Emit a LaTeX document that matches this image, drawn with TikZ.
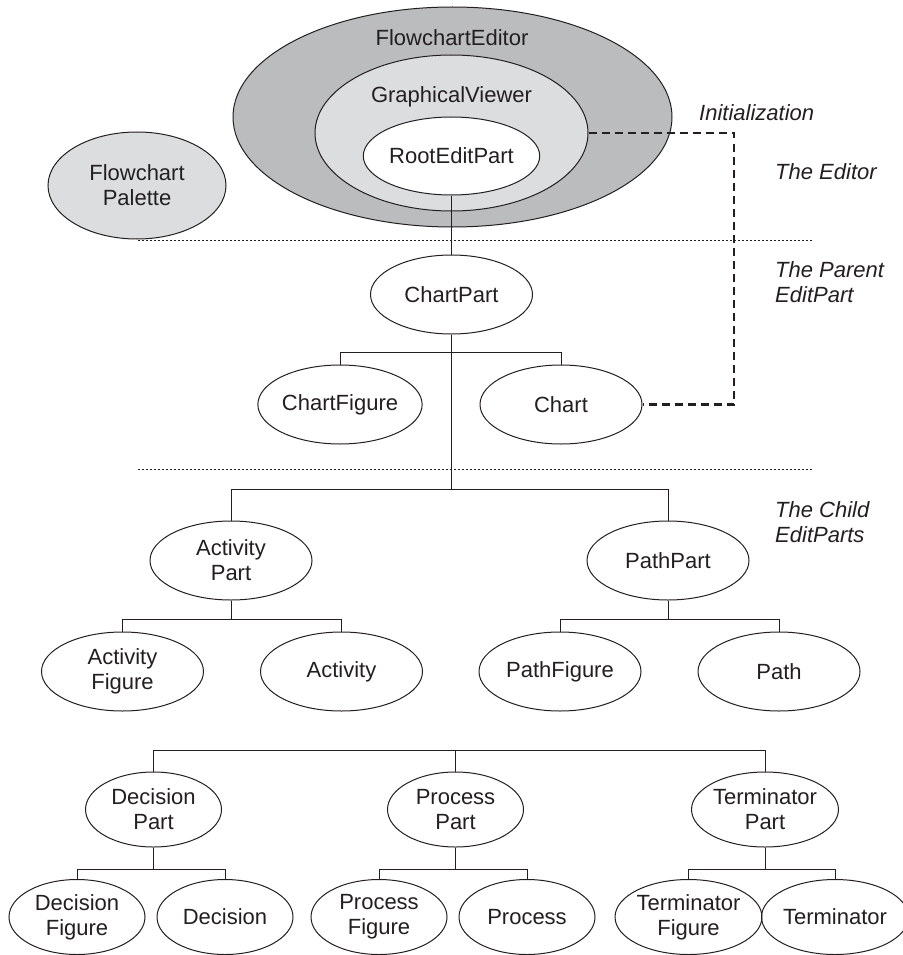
\documentclass[tikz,border=0pt]{standalone}
\usepackage{fontspec}
\setmainfont{Liberation Sans}
\usetikzlibrary{shapes.geometric}
\definecolor{ink}{HTML}{231F20}
\definecolor{darkfill}{HTML}{BBBCBE}
\definecolor{lightfill}{HTML}{DCDDDF}
\begin{document}
\begin{tikzpicture}[x=1pt,y=-1pt,
 every node/.style={text=ink, font=\fontsize{22}{25}\selectfont},
 ell/.style={ellipse, draw=ink, line width=1pt, inner sep=0pt, align=center},
 mid/.style={ell, minimum width=162pt, minimum height=79pt},
 low/.style={ell, minimum width=136pt, minimum height=75pt},
 tree/.style={draw=ink, line width=1pt},
 sepline/.style={draw=ink, line width=0.9pt, dash pattern=on 2pt off 2pt},
 initline/.style={draw=ink, line width=2.5pt, dash pattern=on 8pt off 5pt},
 lbl/.style={font=\itshape\fontsize{22}{25}\selectfont, anchor=west, align=left, inner sep=0pt}
]
\useasboundingbox (0,0) rectangle (902,955);
\fill[white] (0,0) rectangle (902,955);

% editor ellipses
\node[ell, fill=darkfill, minimum width=439pt, minimum height=220pt] (fe) at (452.5,117) {};
\node[ell, fill=lightfill, minimum width=273pt, minimum height=156pt] (gv) at (451.5,133) {};
\node[ell, fill=white, minimum width=161pt, minimum height=78pt] (rep) at (451.5,156) {RootEditPart};
\node (fet) at (452,38) {FlowchartEditor};
\node (gvt) at (451.5,97) {GraphicalViewer};
\node[ell, fill=lightfill, minimum width=178pt, minimum height=107pt] (pal) at (137,185.5) {Flowchart\\Palette};

% separators
\coordinate (s1a) at (138,240); \coordinate (s1b) at (813,240);
\coordinate (s2a) at (138,469); \coordinate (s2b) at (813,469);
\draw[sepline] (s1a) -- (s1b);
\draw[sepline] (s2a) -- (s2b);

% parent level
\node[mid] (cp) at (451.5,294.5) {ChartPart};
\node[mid] (cf) at (340,404.5) {ChartFigure};
\node[mid] (ch) at (561,404.5) {Chart};

% child level
\node[mid] (ap) at (231,560.5) {Activity\\Part};
\node[mid] (pp) at (668,560.5) {PathPart};
\node[mid] (af) at (122.5,671.5) {Activity\\Figure};
\node[mid] (ac) at (341.5,671.5) {Activity};
\node[mid] (pf) at (560,671.5) {PathFigure};
\node[mid] (pa) at (779,671.5) {Path};

% bottom
\node[low] (dp) at (153.5,809.5) {Decision\\Part};
\node[low] (prp) at (455.5,809.5) {Process\\Part};
\node[low] (tp) at (765,809.5) {Terminator\\Part};
\node[low] (df) at (77,917) {Decision\\Figure};
\node[low] (de) at (225,917) {Decision};
\node[low] (prf) at (379,917) {Process\\Figure};
\node[low] (pr) at (527,917) {Process};
\node[low] (tf) at (688.5,917) {Terminator\\Figure};
\node[low] (te) at (835,917) {Terminator};

% bar levels
\coordinate (b1) at (0,352);
\coordinate (b2) at (0,489);
\coordinate (b3) at (0,619);
\coordinate (b4) at (0,750);
\coordinate (b5) at (0,869);
\coordinate (dc) at (734,0);

% tree connectors
\draw[tree] (rep.south) -- (cp.north);
\draw[tree] (cp.south) -- (cp.south |- b2);
\draw[tree] (cf.north) -- (cf.north |- b1) -- (ch.north |- b1) -- (ch.north);
\draw[tree] (ap.north) -- (ap.north |- b2) -- (pp.north |- b2) -- (pp.north);
\draw[tree] (ap.south) -- (ap.south |- b3);
\draw[tree] (af.north) -- (af.north |- b3) -- (ac.north |- b3) -- (ac.north);
\draw[tree] (pp.south) -- (pp.south |- b3);
\draw[tree] (pf.north) -- (pf.north |- b3) -- (pa.north |- b3) -- (pa.north);
\draw[tree] (dp.north) -- (dp.north |- b4) -- (tp.north |- b4) -- (tp.north);
\draw[tree] (prp.north) -- (prp.north |- b4);
\draw[tree] (dp.south) -- (dp.south |- b5);
\draw[tree] (df.north) -- (df.north |- b5) -- (de.north |- b5) -- (de.north);
\draw[tree] (prp.south) -- (prp.south |- b5);
\draw[tree] (prf.north) -- (prf.north |- b5) -- (pr.north |- b5) -- (pr.north);
\draw[tree] (tp.south) -- (tp.south |- b5);
\draw[tree] (tf.north) -- (tf.north |- b5) -- (te.north |- b5) -- (te.north);

% initialization link
\draw[initline] (gv.east) -- (gv.east -| dc) -- (dc |- ch.east) -- (ch.east);

% labels
\node[lbl] (linit) at (699,113) {Initialization};
\node[lbl] (led) at (775,172) {The Editor};
\node[lbl] (lpar) at (775,282) {The Parent\\EditPart};
\node[lbl] (lch) at (775,522) {The Child\\EditParts};
\end{tikzpicture}
\end{document}
